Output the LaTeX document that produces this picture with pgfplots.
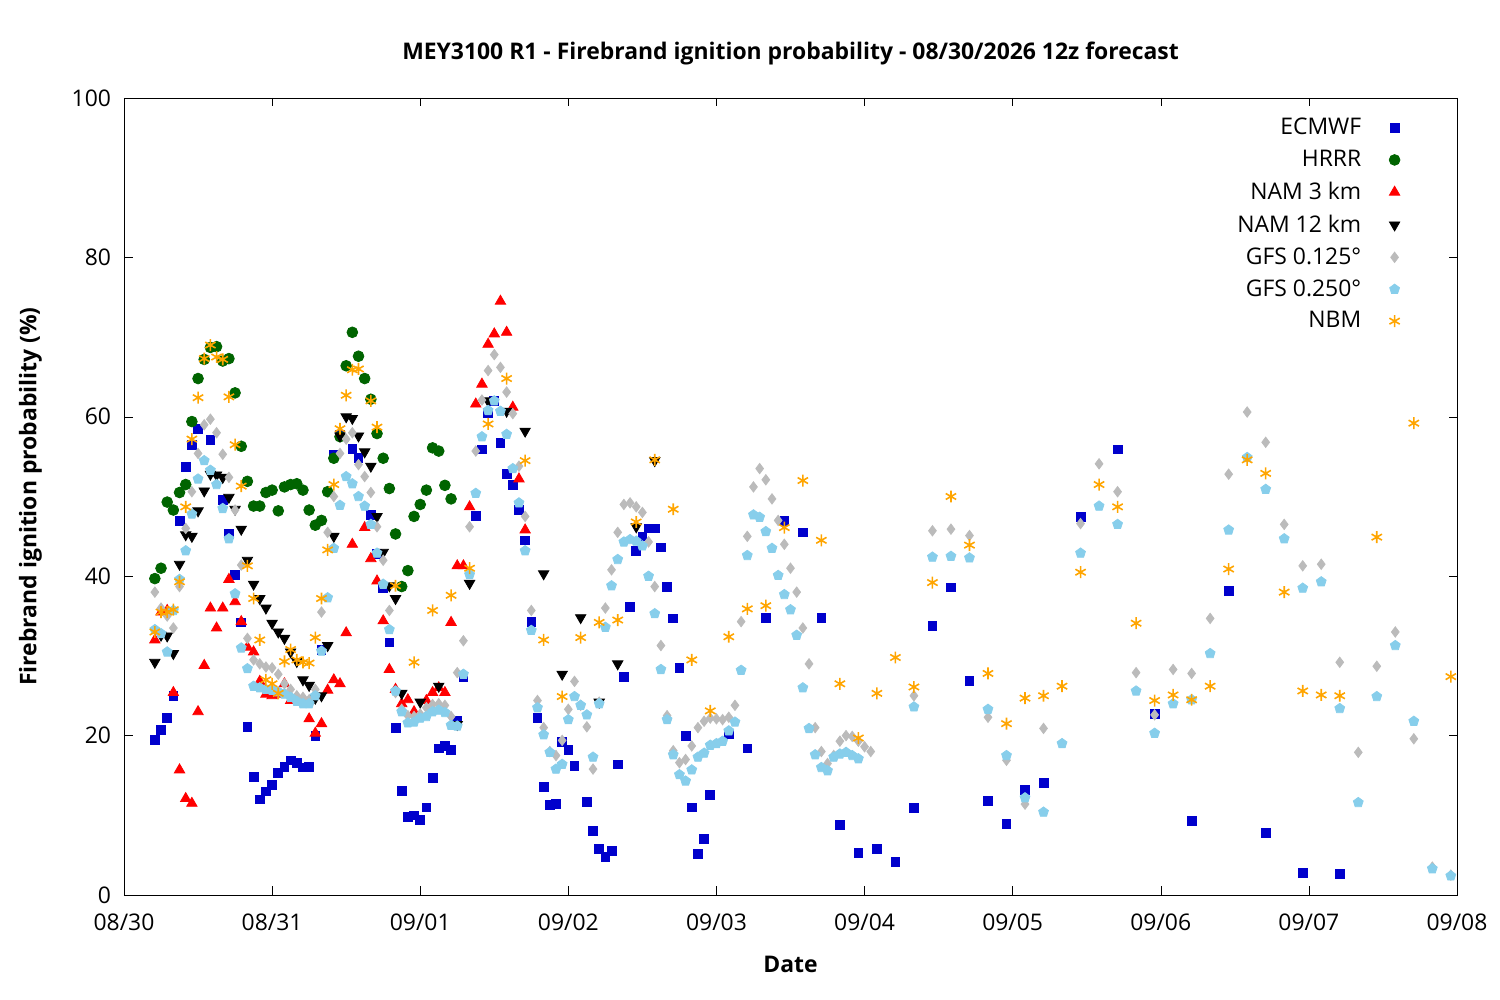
\documentclass[border=0pt]{standalone}
\usepackage{pgfplots}
\pgfplotsset{compat=1.18}
\usepackage{fontspec}
\setmainfont{Open Sans}
\definecolor{ecm}{HTML}{0000CC}
\definecolor{hrrr}{HTML}{006400}
\definecolor{gfsa}{HTML}{BBBBBB}
\definecolor{gfsb}{HTML}{87CEEB}
\definecolor{nbm}{HTML}{FFA500}
\begin{document}
\begin{tikzpicture}
\path[use as bounding box] (-62bp,-52.5bp) rectangle (688bp,447.5bp);
\begin{axis}[
  scale only axis, width=666.5bp, height=398.5bp,
  xmin=0, xmax=216, ymin=0, ymax=100,
  xtick={0,24,...,216},
  xticklabels={08/30,08/31,09/01,09/02,09/03,09/04,09/05,09/06,09/07,09/08},
  ytick={0,20,...,100},
  tick align=inside, tick style={black},
  /pgf/number format/assume math mode=true,
  ticklabel style={font=\fontsize{11.5}{13}\selectfont},
  xticklabel style={yshift=-6bp},
  yticklabel style={xshift=-3bp},
  title={\textbf{MEY3100 R1 - Firebrand ignition probability - 08/30/2026 12z forecast}},
  title style={font=\fontsize{11.5}{13}\selectfont, yshift=7bp},
  xlabel={\textbf{Date}}, ylabel={\textbf{Firebrand ignition probability (\%)}},
  label style={font=\fontsize{11.5}{13}\selectfont},
  xlabel style={yshift=-6bp},
  ylabel style={yshift=8bp},
  legend style={draw=none, fill=none, font=\fontsize{11.5}{13}\selectfont, row sep=2.2bp, at={(0.962,0.985)}, anchor=north east,
    /tikz/every odd column/.append style={column sep=12bp}},
  legend cell align=right, legend plot pos=right,
  clip=false,
]
\addplot[only marks, mark=square*, color=ecm, mark size=2.2pt] coordinates {
(5,19.5)(6,20.7)(7,22.2)(8,25)(9,46.9)(10,53.7)(11,56.5)(12,58.5)(14,57.1)(16,49.6)(17,45.3)(18,40.2)(19,34.2)(20,21.1)(21,14.8)(22,12)(23,13)(24,13.8)(25,15.3)(26,16.1)(27,16.9)(28,16.6)(29,16)(30,16.1)(31,20)(32,30.8)(34,55.2)(35,57.8)(37,56)(38,54.8)(40,47.7)(41,42.8)(42,38.5)(43,31.7)(44,21)(45,13.1)(46,9.8)(47,10)(48,9.4)(49,11)(50,14.7)(51,18.4)(52,18.7)(53,18.2)(54,21.9)(55,27.4)(57,47.6)(58,55.9)(59,60.5)(60,62)(61,56.7)(62,52.8)(63,51.5)(64,48.3)(65,44.5)(66,34.3)(67,22.2)(68,13.6)(69,11.3)(70,11.4)(71,19.2)(72,18.2)(73,16.2)(75,11.7)(76,8)(77,5.8)(78,4.8)(79,5.5)(80,16.4)(81,27.4)(82,36.1)(83,43.2)(84,45)(85,46)(86,46)(87,43.6)(88,38.7)(89,34.7)(90,28.5)(91,20)(92,11)(93,5.2)(94,7)(95,12.6)(98,20.2)(101,18.4)(104,34.8)(107,46.9)(110,45.5)(113,34.8)(116,8.8)(119,5.3)(122,5.8)(125,4.2)(128,10.9)(131,33.8)(134,38.6)(137,26.9)(140,11.8)(143,8.9)(146,13.2)(149,14.1)(155,47.4)(161,55.9)(167,22.7)(173,9.3)(179,38.2)(185,7.8)(191,2.8)(197,2.6)};
\addlegendentry{ECMWF}
\addplot[only marks, mark=*, color=hrrr, mark size=2.7pt] coordinates {
(5,39.7)(6,41)(7,49.3)(8,48.3)(9,50.5)(10,51.5)(11,59.4)(12,64.8)(13,67.2)(14,68.7)(15,68.8)(16,67)(17,67.3)(18,63)(19,56.3)(20,51.9)(21,48.8)(22,48.8)(23,50.5)(24,50.8)(25,48.2)(26,51.2)(27,51.5)(28,51.6)(29,50.8)(30,48.3)(31,46.4)(32,47)(33,50.6)(34,54.8)(35,57.5)(36,66.4)(37,70.6)(38,67.6)(39,64.8)(40,62.2)(41,57.9)(42,54.8)(43,51)(44,45.3)(45,38.7)(46,40.7)(47,47.5)(48,49)(49,50.8)(50,56.1)(51,55.7)(52,51.4)(53,49.7)};
\addlegendentry{HRRR}
\addplot[only marks, mark=triangle*, color=red, mark size=3pt] coordinates {
(5,32)(6,35.5)(7,35.7)(8,25.4)(9,15.7)(10,12.1)(11,11.5)(12,23)(13,28.8)(14,36)(15,33.5)(16,36)(17,39.6)(18,36.8)(19,34.3)(20,31.1)(21,30.5)(22,26.8)(23,25.2)(24,25)(25,25.2)(26,26.5)(27,24.4)(28,24.7)(29,24.5)(30,22.1)(31,20.3)(32,21.5)(33,25.7)(34,27)(35,26.5)(36,32.9)(37,44)(39,46.1)(40,42.2)(41,39.4)(42,34.4)(43,28.3)(44,25.8)(45,24)(46,24.5)(47,23)(48,22.5)(49,24.4)(50,25.4)(51,26)(52,25.4)(53,34.2)(54,41.3)(55,41.3)(56,48.7)(57,61.6)(58,64.1)(59,69.1)(60,70.4)(61,74.5)(62,70.6)(63,61.2)(64,52.2)(65,45.8)};
\addlegendentry{NAM 3 km}
\addplot[only marks, mark=triangle*, mark options={rotate=180}, color=black, mark size=3pt] coordinates {
(5,29.2)(6,32.6)(7,32.5)(8,30.3)(9,41.5)(10,45.2)(11,45)(12,48.2)(13,50.7)(14,52.8)(15,52.7)(16,52.4)(17,49.9)(18,48.4)(19,45.9)(20,42)(21,39)(22,37.2)(23,36)(24,34.1)(25,33)(26,32.2)(27,30.5)(28,29.3)(29,27)(30,26.3)(31,24.7)(32,25)(33,31.3)(34,45)(35,57.6)(36,60)(37,59.8)(38,57.6)(39,55.6)(40,53.8)(41,47.5)(42,43)(43,38.8)(44,37.2)(45,25.3)(48,24.2)(51,26.2)(54,21.4)(56,39.1)(59,62)(62,60.7)(65,58.2)(68,40.3)(71,27.7)(74,34.8)(77,24.2)(80,29)(83,46.2)(86,54.5)};
\addlegendentry{NAM 12 km}
\addplot[only marks, mark=diamond*, color=gfsa, mark size=2.6pt] coordinates {
(5,38)(6,36)(7,35)(8,33.5)(9,38.7)(10,46)(11,50.6)(12,55.4)(13,59)(14,59.7)(15,58)(16,55.3)(17,52.4)(18,48.3)(19,41.4)(20,32.2)(21,29.5)(22,29)(23,28.6)(24,28.5)(25,27.7)(26,26.5)(27,25.8)(28,25)(29,24.8)(30,24.5)(31,25.8)(32,35.5)(33,45.5)(34,50)(35,55.4)(36,57.2)(37,58)(38,54)(39,52.5)(40,50.5)(41,46.2)(42,42)(43,35.7)(44,25.4)(45,23.3)(46,22.5)(47,22.4)(48,22.7)(49,23.5)(50,23.9)(51,24)(52,23.8)(53,22.4)(54,27.9)(55,31.9)(56,46.2)(57,55.7)(58,62.1)(59,65.8)(60,67.8)(61,66.2)(62,63.1)(63,60.4)(64,53.8)(65,47.5)(66,35.7)(67,24.4)(68,21)(69,18)(70,17.5)(71,19.4)(72,23.3)(73,26.8)(74,23.8)(75,21.1)(76,15.8)(77,24.2)(78,36)(79,40.8)(80,45.5)(81,49)(82,49.2)(83,48.7)(84,48)(85,44.3)(86,38.7)(87,31.3)(88,22.5)(89,18.1)(90,16.6)(91,17)(92,18.7)(93,21)(94,21.8)(95,22.2)(96,22.1)(97,22)(98,22.3)(99,23.8)(100,34.3)(101,45)(102,51.2)(103,53.5)(104,52.1)(105,49.7)(106,47)(107,44)(108,41)(109,38)(110,33.5)(111,29)(112,21)(113,18)(114,16.5)(115,17.5)(116,19.3)(117,20)(118,19.9)(119,19.3)(120,18.6)(121,18)(128,25)(131,45.7)(134,45.9)(137,45.1)(140,22.3)(143,16.9)(146,11.4)(149,20.9)(155,46.6)(158,54.1)(161,50.6)(164,27.9)(167,22.6)(170,28.3)(173,27.8)(176,34.7)(179,52.8)(182,60.6)(185,56.8)(188,46.5)(191,41.3)(194,41.5)(197,29.2)(200,17.9)(203,28.7)(206,33)(209,19.6)(212,3.5)(215,2.5)};
\addlegendentry{GFS 0.125°}
\addplot[only marks, mark=pentagon*, color=gfsb, mark size=2.6pt] coordinates {
(5,33.3)(6,32.8)(7,30.5)(8,35.7)(9,39.6)(10,43.2)(11,47.8)(12,52.2)(13,54.5)(14,53.3)(15,51.5)(16,48.5)(17,44.7)(18,37.8)(19,31)(20,28.4)(21,26.2)(22,26)(23,25.8)(24,25.7)(25,25.5)(26,25.2)(27,24.8)(28,24.3)(29,24)(30,24)(31,25)(32,30.6)(33,37.3)(34,43.5)(35,48.9)(36,52.5)(37,51.6)(38,50)(39,48.8)(40,46.5)(41,42.9)(42,39)(43,33.3)(44,25.6)(45,23)(46,21.6)(47,21.7)(48,22.2)(49,22.4)(50,23)(51,23.2)(52,22.9)(53,21.3)(54,21.2)(55,27.7)(56,40.2)(57,50.4)(58,57.5)(59,60.8)(60,62)(61,60.7)(62,57.8)(63,53.5)(64,49.2)(65,43.2)(66,33.2)(67,23.5)(68,20.1)(69,17.9)(70,15.8)(71,16.4)(72,22)(73,24.9)(74,23.8)(75,22.6)(76,17.3)(77,24)(78,33.6)(79,38.8)(80,42.1)(81,44.3)(82,44.6)(83,44.4)(84,43.8)(85,40)(86,35.3)(87,28.3)(88,22)(89,17.6)(90,15.1)(91,14.3)(92,15.7)(93,17.3)(94,17.8)(95,18.8)(96,19)(97,19.3)(98,20.6)(99,21.7)(100,28.2)(101,42.6)(102,47.7)(103,47.4)(104,45.6)(105,43.5)(106,40.1)(107,37.7)(108,35.8)(109,32.6)(110,26)(111,20.9)(112,17.6)(113,16)(114,15.6)(115,17.3)(116,17.7)(117,17.9)(118,17.5)(119,17.1)(128,23.6)(131,42.4)(134,42.5)(137,42.3)(140,23.3)(143,17.5)(146,12.2)(149,10.4)(152,19)(155,42.9)(158,48.8)(161,46.5)(164,25.6)(167,20.3)(170,24)(173,24.5)(176,30.3)(179,45.8)(182,54.9)(185,50.9)(188,44.7)(191,38.5)(194,39.3)(197,23.4)(200,11.6)(203,24.9)(206,31.3)(209,21.8)(212,3.3)(215,2.4)};
\addlegendentry{GFS 0.250°}
\addplot[only marks, mark=asterisk, color=nbm, mark size=3pt, thick] coordinates {
(5,33)(6,35.5)(7,35.5)(8,35.8)(9,39.3)(10,48.7)(11,57.2)(12,62.4)(13,67.3)(14,69)(15,67.5)(16,67.2)(17,62.5)(18,56.5)(19,51.3)(20,41.3)(21,37.2)(22,32)(23,27)(24,26.5)(25,25.3)(26,29.3)(27,30.8)(28,29.5)(29,29.2)(30,29.1)(31,32.3)(32,37.2)(33,43.3)(34,51.5)(35,58.5)(36,62.7)(37,65.9)(38,66)(40,62)(41,58.7)(44,38.8)(47,29.2)(50,35.7)(53,37.6)(56,41)(59,59.1)(62,64.8)(65,54.5)(68,32)(71,24.9)(74,32.3)(77,34.2)(80,34.5)(83,46.8)(86,54.6)(89,48.4)(92,29.5)(95,23.1)(98,32.4)(101,35.9)(104,36.3)(107,46.1)(110,52)(113,44.5)(116,26.5)(119,19.7)(122,25.3)(125,29.8)(128,26.1)(131,39.2)(134,50)(137,43.9)(140,27.8)(143,21.5)(146,24.7)(149,25)(152,26.2)(155,40.5)(158,51.5)(161,48.7)(164,34.1)(167,24.4)(170,25.1)(173,24.5)(176,26.2)(179,40.9)(182,54.6)(185,52.9)(188,38)(191,25.6)(194,25.1)(197,25)(203,44.9)(209,59.2)(215,27.4)};
\addlegendentry{NBM}
\end{axis}
\end{tikzpicture}
\end{document}
